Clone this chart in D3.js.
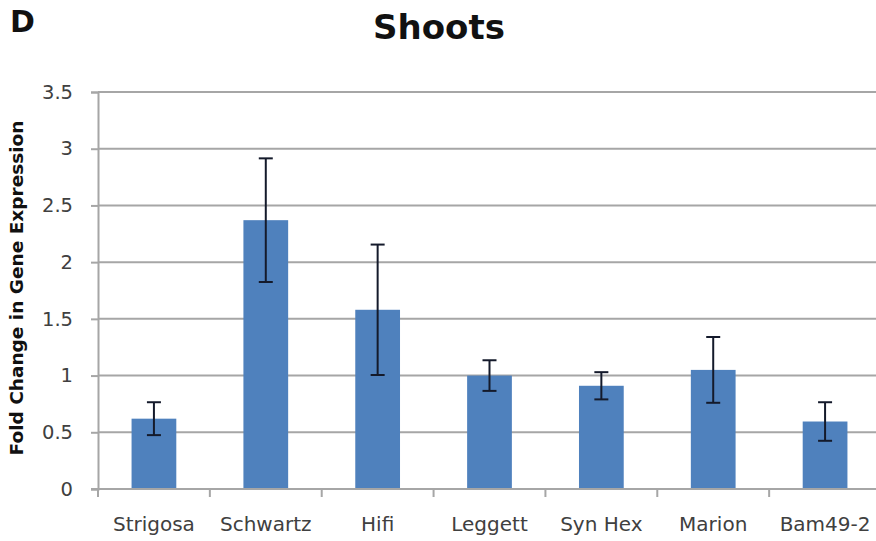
<!DOCTYPE html>
<html>
<head>
<meta charset="utf-8">
<script src="https://cdn.jsdelivr.net/npm/d3@7"></script>
<style>
  html, body { margin: 0; padding: 0; background: #fff; }
  svg { display: block; }
</style>
</head>
<body>
<script>
const categories = ["Strigosa", "Schwartz", "Hifi", "Leggett", "Syn Hex", "Marion", "Bam49-2"];
const values = [0.62, 2.37, 1.58, 1.0, 0.91, 1.05, 0.595];
const errors = [0.145, 0.545, 0.575, 0.135, 0.12, 0.29, 0.17];
const yTicks = [0, 0.5, 1, 1.5, 2, 2.5, 3, 3.5];

const width = 876;
const height = 541;
const margin = { top: 92, right: -5, bottom: 52, left: 98 };
const font = "'DejaVu Sans', sans-serif";

const data = categories.map((name, i) => ({ name, value: values[i], err: errors[i] }));

const svg = d3.create("svg")
  .attr("width", width)
  .attr("height", height)
  .attr("viewBox", [0, 0, width, height]);

const x = d3.scaleBand()
  .domain(categories)
  .range([margin.left, width - margin.right])
  .paddingInner(0.6)
  .paddingOuter(0.3);

// separate band scale without padding for tick marks between categories
const xCell = d3.scaleBand()
  .domain(categories)
  .range([margin.left, width - margin.right]);

const y = d3.scaleLinear()
  .domain([0, 3.5])
  .range([height - margin.bottom, margin.top]);

// gridlines
svg.append("g")
  .selectAll("line")
  .data(yTicks.filter((d) => d > 0))
  .join("line")
  .attr("x1", margin.left)
  .attr("x2", width)
  .attr("y1", (d) => y(d))
  .attr("y2", (d) => y(d))
  .attr("stroke", "#a6a6a6")
  .attr("stroke-width", 2);

// y axis
const yAxis = (g) =>
  g
    .attr("transform", `translate(${margin.left},0)`)
    .call(d3.axisLeft(y).tickValues(yTicks).tickFormat(d3.format("")).tickSize(7).tickPadding(18))
    .call((g) => g.select(".domain").attr("stroke", "#a6a6a6").attr("stroke-width", 2))
    .call((g) => g.selectAll(".tick line").attr("stroke", "#a6a6a6").attr("stroke-width", 2))
    .call((g) =>
      g.selectAll(".tick text")
        .attr("font-family", font)
        .attr("font-size", "19.5px")
        .attr("fill", "#404040")
    );

svg.append("g").call(yAxis);

// bars
svg.append("g")
  .attr("fill", "#4f81bd")
  .selectAll("rect")
  .data(data)
  .join("rect")
  .attr("x", (d) => x(d.name))
  .attr("y", (d) => y(d.value))
  .attr("width", x.bandwidth())
  .attr("height", (d) => y(0) - y(d.value));

// error bars
const eb = svg.append("g")
  .attr("stroke", "#141a2b")
  .attr("stroke-width", 2)
  .selectAll("g")
  .data(data)
  .join("g")
  .attr("transform", (d) => `translate(${x(d.name) + x.bandwidth() / 2},0)`);

eb.append("line")
  .attr("y1", (d) => y(d.value + d.err))
  .attr("y2", (d) => y(d.value - d.err));

eb.selectAll("line.cap")
  .data((d) => [d.value + d.err, d.value - d.err])
  .join("line")
  .attr("class", "cap")
  .attr("x1", -7)
  .attr("x2", 7)
  .attr("y1", (v) => y(v))
  .attr("y2", (v) => y(v));

// x axis
const gx = svg.append("g")
  .attr("transform", `translate(0,${y(0)})`);

gx.append("line")
  .attr("x1", margin.left - 7)
  .attr("x2", width)
  .attr("stroke", "#a6a6a6")
  .attr("stroke-width", 2);

gx.selectAll("line.tick")
  .data(categories)
  .join("line")
  .attr("class", "tick")
  .attr("x1", (d) => xCell(d))
  .attr("x2", (d) => xCell(d))
  .attr("y1", 0)
  .attr("y2", 8)
  .attr("stroke", "#a6a6a6")
  .attr("stroke-width", 2);

gx.selectAll("text")
  .data(categories)
  .join("text")
  .attr("x", (d) => xCell(d) + xCell.bandwidth() / 2)
  .attr("y", 42)
  .attr("text-anchor", "middle")
  .attr("font-family", font)
  .attr("font-size", "20px")
  .attr("fill", "#404040")
  .text((d) => d);

// title
svg.append("text")
  .attr("x", 439)
  .attr("y", 39)
  .attr("text-anchor", "middle")
  .attr("font-family", font)
  .attr("font-weight", "bold")
  .attr("font-size", "34px")
  .attr("fill", "#111")
  .text("Shoots");

// panel letter
svg.append("text")
  .attr("x", 10)
  .attr("y", 32)
  .attr("font-family", font)
  .attr("font-weight", "bold")
  .attr("font-size", "30px")
  .attr("fill", "#111")
  .text("D");

// y label
svg.append("text")
  .attr("transform", `translate(23,288) rotate(-90)`)
  .attr("text-anchor", "middle")
  .attr("font-family", font)
  .attr("font-weight", "bold")
  .attr("font-size", "18.5px")
  .attr("fill", "#111")
  .text("Fold Change in Gene Expression");

document.body.appendChild(svg.node());
</script>
</body>
</html>
